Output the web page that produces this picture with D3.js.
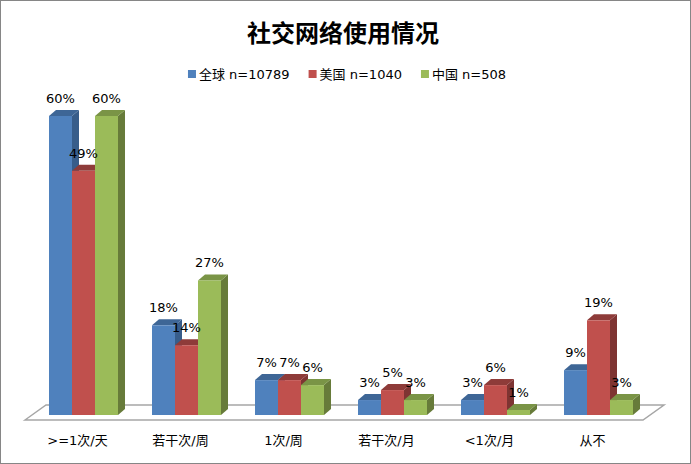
<!DOCTYPE html>
<html lang="zh">
<head>
<meta charset="utf-8">
<title>社交网络使用情况</title>
<script src="https://d3js.org/d3.v7.min.js"></script>
<style>
  body { margin: 0; background: #fff; }
  svg text { font-family: "DejaVu Sans", "Noto Sans CJK SC", sans-serif; fill: #000; }
</style>
</head>
<body>
<script>
const categories = [">=1次/天", "若干次/周", "1次/周", "若干次/月", "<1次/月", "从不"];
const seriesNames = ["全球 n=10789", "美国 n=1040", "中国 n=508"];
const globalValues = [60, 18, 7, 3, 3, 9];
const usValues = [49, 14, 7, 5, 6, 19];
const chinaValues = [60, 27, 6, 3, 1, 3];

const W = 691, H = 464;
const depthX = 7, depthY = -6;      // bar depth offset
const floorDX = 21, floorDY = -15;  // floor depth

const colors = [
  { front: "#4F81BD", side: "#385D8A", top: "#3E6696" },
  { front: "#C0504D", side: "#7E3432", top: "#8E3B39" },
  { front: "#9BBB59", side: "#677B3A", top: "#7A9446" }
];

const rows = [globalValues, usValues, chinaValues];

const svg = d3.select("body").append("svg")
  .attr("width", W).attr("height", H);

svg.append("rect")
  .attr("x", 0.5).attr("y", 0.5)
  .attr("width", W - 1).attr("height", H - 1)
  .attr("fill", "#fff").attr("stroke", "#868686");

svg.append("text")
  .attr("x", 343).attr("y", 42)
  .attr("text-anchor", "middle")
  .attr("font-size", 24).attr("font-weight", "bold")
  .text("社交网络使用情况");

// legend, laid out from measured text widths
const legend = svg.append("g");
const items = legend.selectAll("g").data(seriesNames).join("g");
items.append("rect").attr("width", 8).attr("height", 8).attr("y", 70)
  .attr("fill", (d, i) => colors[i].front);
items.append("text").attr("x", 11).attr("y", 79).attr("font-size", 13).text(d => d);
let lx = 0;
const widths = [];
items.each(function () { widths.push(11 + this.querySelector("text").getComputedTextLength()); });
const totalW = d3.sum(widths) + 19 * (widths.length - 1);
lx = 347 - totalW / 2;
items.attr("transform", (d, i) => {
  const t = `translate(${lx},0)`;
  lx += widths[i] + 19;
  return t;
});

const x = d3.scaleBand().domain(categories).range([32, 650]).paddingInner(0.33).paddingOuter(0.165);
const xs = d3.scaleBand().domain(d3.range(seriesNames.length)).range([0, x.bandwidth()]);
const y = d3.scaleLinear().domain([0, 60]).range([415, 116]);

// floor
const fy = 420;
const fl = 25, fr = 643;
svg.append("path")
  .attr("d", `M${fl},${fy}L${fl + floorDX},${fy + floorDY}L${fr + floorDX},${fy + floorDY}L${fr},${fy}Z`)
  .attr("fill", "#fff").attr("stroke", "#A6A6A6").attr("stroke-width", 1.5);

const bars = [];
categories.forEach((c, ci) => {
  rows.forEach((vals, si) => {
    bars.push({ c, si, v: vals[ci] });
  });
});

const g = svg.append("g");
bars.forEach(b => {
  const x0 = x(b.c) + xs(b.si), w = xs.bandwidth();
  const y0 = y(0), y1 = y(b.v);
  const col = colors[b.si];
  g.append("path")
    .attr("d", `M${x0 + w},${y1}L${x0 + w + depthX},${y1 + depthY}L${x0 + w + depthX},${y0 + depthY}L${x0 + w},${y0}Z`)
    .attr("fill", col.side);
  g.append("path")
    .attr("d", `M${x0},${y1}L${x0 + depthX},${y1 + depthY}L${x0 + w + depthX},${y1 + depthY}L${x0 + w},${y1}Z`)
    .attr("fill", col.top);
  g.append("rect")
    .attr("x", x0).attr("y", y1).attr("width", w).attr("height", y0 - y1)
    .attr("fill", col.front);
});

svg.append("g").selectAll("text").data(bars).join("text")
  .attr("x", d => x(d.c) + xs(d.si) + xs.bandwidth() / 2)
  .attr("y", d => y(d.v) - 13)
  .attr("text-anchor", "middle")
  .attr("font-size", 13)
  .text(d => d.v + "%");

svg.append("g").selectAll("text").data(categories).join("text")
  .attr("x", d => x(d) + x.bandwidth() / 2 - 6)
  .attr("y", 445)
  .attr("text-anchor", "middle")
  .attr("font-size", 13)
  .text(d => d);
</script>
</body>
</html>
